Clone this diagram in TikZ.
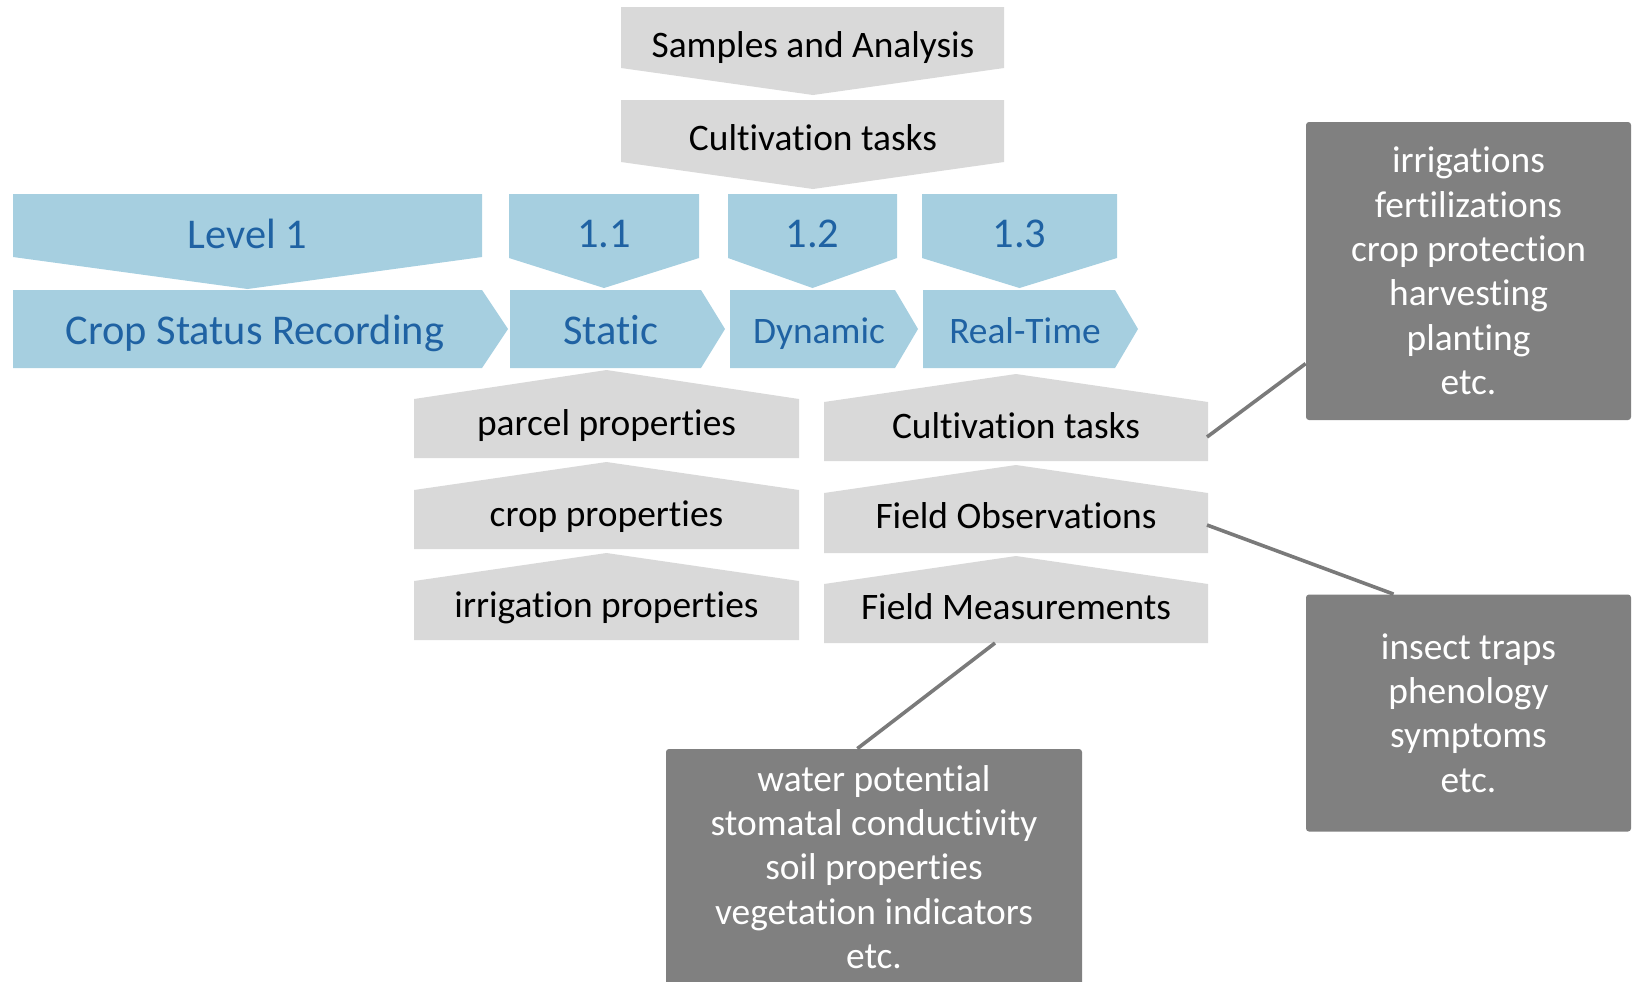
\documentclass[tikz,border=0pt]{standalone}
\usepackage{fontspec}
\setmainfont{Carlito}[Ligatures={NoCommon}]
\usetikzlibrary{calc}

\definecolor{lightblue}{HTML}{A6CFE0}
\definecolor{darkblue}{HTML}{1F62A3}
\definecolor{lightgrey}{HTML}{D9D9D9}
\definecolor{darkgrey}{HTML}{808080}
\definecolor{linegrey}{HTML}{7A7A7A}

\tikzset{
  oneline/.style={inner sep=0pt, text depth=0pt},
  bluebig/.style={oneline, text height=13.8pt, text=darkblue, font=\fontsize{21.2}{25}\selectfont},
  bluesmall/.style={oneline, text height=12pt, text=darkblue, font=\fontsize{18.7}{22.6}\selectfont},
  greytext/.style={oneline, text height=12pt, text=black, font=\fontsize{18.7}{22.6}\selectfont},
  infobox/.style={fill=darkgrey, text=white, rounded corners=1.5pt, align=center,
    inner sep=0pt, font=\fontsize{18.7}{22.2}\selectfont},
  link/.style={draw=linegrey, line width=1.8pt},
}

\begin{document}
\begin{tikzpicture}[x=0.5pt, y=-0.5pt]

    % Fix the page to the size of the reference
    \useasboundingbox (0,0) rectangle (1636,981);

    % Stacked grey chevrons at the top
    \fill[lightgrey] (621,7) -- (1004,7) -- (1004,68) -- (813,95) -- (621,68) -- cycle;
    \fill[lightgrey] (621,100) -- (1004,100) -- (1004,162) -- (813,189) -- (621,162) -- cycle;
    \node[greytext] (samples) at (813,45) {Samples and Analysis};
    \node[greytext] (topTasks) at (813,138) {Cultivation tasks};

    % Level chevrons pointing down
    \fill[lightblue] (13,194) -- (482,194) -- (482,257) -- (247.5,289) -- (13,257) -- cycle;
    \fill[lightblue] (509,194) -- (699,194) -- (699,258) -- (604,288) -- (509,258) -- cycle;
    \fill[lightblue] (728,194) -- (897,194) -- (897,258) -- (812.5,288) -- (728,258) -- cycle;
    \fill[lightblue] (922,194) -- (1117,194) -- (1117,258) -- (1019.5,288) -- (922,258) -- cycle;
    \node[bluebig] (level) at (247.5,235) {Level 1};
    \node[bluebig] (lvlA) at (604,234) {1.1};
    \node[bluebig] (lvlB) at (812.5,234) {1.2};
    \node[bluebig] (lvlC) at (1019.5,234) {1.3};

    % Arrow row with the recording types
    \fill[lightblue] (13,290) -- (482,290) -- (508,329) -- (482,368) -- (13,368) -- cycle;
    \fill[lightblue] (510,290) -- (701,290) -- (725,329) -- (701,368) -- (510,368) -- cycle;
    \fill[lightblue] (730,290) -- (895,290) -- (918,329) -- (895,368) -- (730,368) -- cycle;
    \fill[lightblue] (923,290) -- (1115,290) -- (1138,329) -- (1115,368) -- (923,368) -- cycle;
    \node[bluebig] (crop) at (255,331) {Crop Status Recording};
    \node[bluebig] (static) at (611,331) {Static};
    \node[bluesmall] (dynamic) at (819,331) {Dynamic};
    \node[bluesmall] (realtime) at (1025,331) {Real-Time};

    % Static properties, grey boxes pointing up
    \fill[lightgrey] (414,458) -- (414,399) -- (606.5,370) -- (799,399) -- (799,458) -- cycle;
    \fill[lightgrey] (414,549) -- (414,490) -- (606.5,462) -- (799,490) -- (799,549) -- cycle;
    \fill[lightgrey] (414,640) -- (414,581) -- (606.5,553) -- (799,581) -- (799,640) -- cycle;
    \node[greytext] (parcel) at (606.5,423) {parcel properties};
    \node[greytext] (cropprop) at (606.5,514) {crop properties};
    \node[greytext] (irrprop) at (606.5,605) {irrigation properties};

    % Dynamic records, grey boxes pointing up
    \fill[lightgrey] (824,461) -- (824,402) -- (1016,374) -- (1208,402) -- (1208,461) -- cycle;
    \fill[lightgrey] (824,553) -- (824,493) -- (1016,465) -- (1208,493) -- (1208,553) -- cycle;
    \fill[lightgrey] (824,643) -- (824,584) -- (1016,556) -- (1208,584) -- (1208,643) -- cycle;
    \node[greytext] (tasks) at (1016,426) {Cultivation tasks};
    \node[greytext] (obs) at (1016,516) {Field Observations};
    \node[greytext] (meas) at (1016,607) {Field Measurements};

    % Anchor points on the grey boxes for the links
    \coordinate (tasksEnd) at (1207,437);
    \coordinate (obsEnd) at (1207,525);
    \coordinate (measEnd) at (995,643);

    % Dark detail boxes
    \node[infobox, minimum width=162.5pt, minimum height=149pt] (taskList) at (1468.5,271)
      {irrigations\\fertilizations\\crop protection\\harvesting\\planting\\etc.};
    \node[infobox, minimum width=162.5pt, minimum height=118.5pt] (obsList) at (1468.5,713)
      {insect traps\\phenology\\symptoms\\etc.};
    \node[infobox, minimum width=208pt, minimum height=118pt] (measList) at (874,867)
      {water potential\\stomatal conductivity\\soil properties\\vegetation indicators\\etc.};

    % Links from the records to their details
    \draw[link] (tasksEnd) -- ($(taskList.south west)!0.19!(taskList.north west)$);
    \draw[link] (obsEnd) -- ($(obsList.north west)!0.27!(obsList.north east)$);
    \draw[link] (measEnd) -- ($(measList.north west)!0.46!(measList.north east)$);

\end{tikzpicture}
\end{document}
